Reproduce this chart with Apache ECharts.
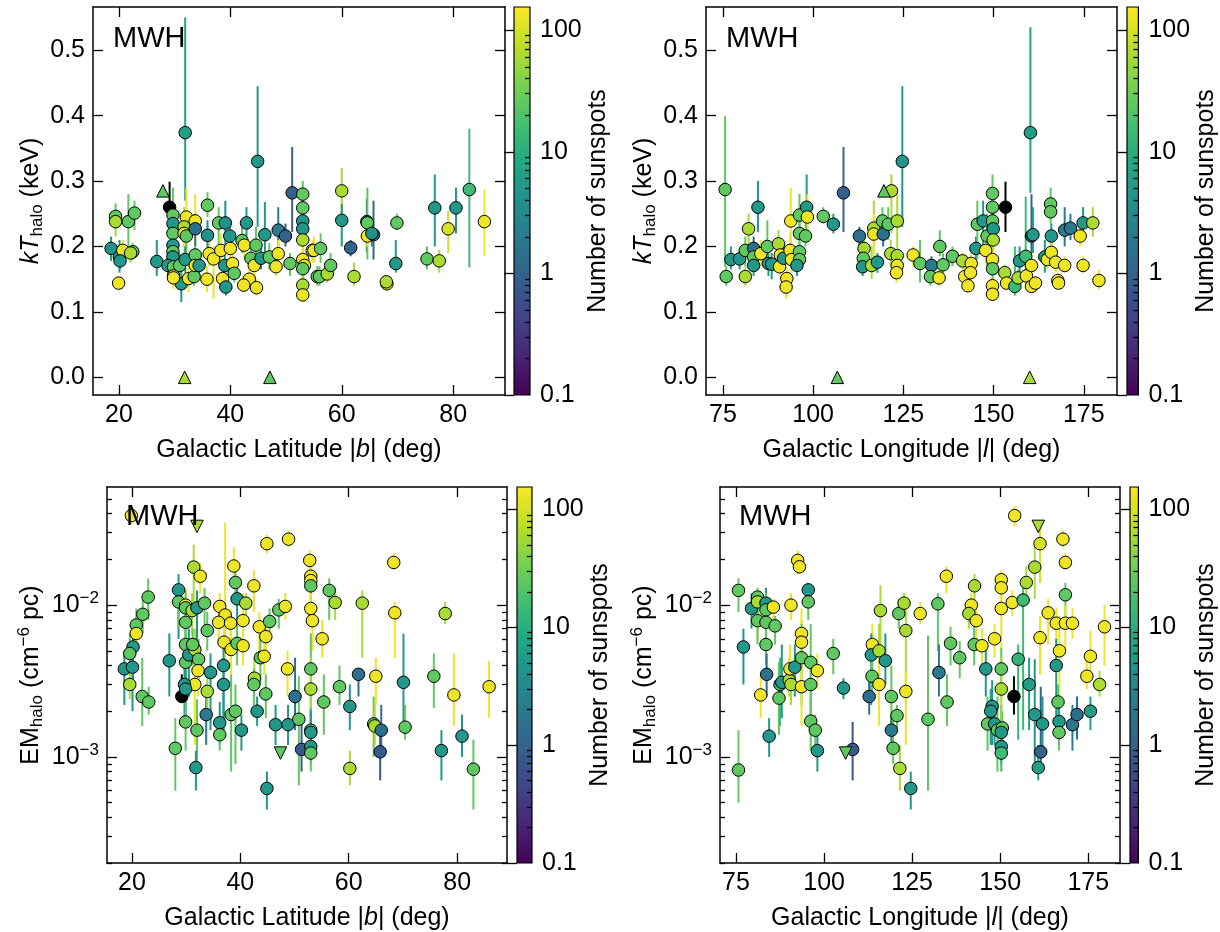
<!DOCTYPE html>
<html>
<head>
<meta charset="utf-8">
<title>MWH halo temperature and emission measure</title>
<script src="https://cdn.jsdelivr.net/npm/echarts@6/dist/echarts.min.js"></script>
<style>
  html, body { margin: 0; padding: 0; background: #fff; }
  #chart { width: 1220px; height: 932px; }
</style>
</head>
<body>
<div id="chart"></div>
<script>
// ---- data: [coordinate, value, lower, upper, sunspot number] ----
const kTvsLat = [
  [18.6,0.197,0.178,0.215,4],[19.4,0.246,0.225,0.266,25],[19.4,0.238,0.215,0.255,60],[20.1,0.184,0.16,0.21,5],
  [19.95,0.144,0.14,0.15,130],[20.7,0.194,0.18,0.21,130],[21.7,0.238,0.194,0.28,25],[22.8,0.251,0.225,0.27,25],
  [22.5,0.192,0.18,0.205,25],[22.1,0.19,0.175,0.2,60],[20.2,0.178,0.165,0.19,5],[26.8,0.177,0.155,0.21,5],
  [29.1,0.26,0.222,0.299,0],[29.7,0.248,0.21,0.29,25],[29.7,0.235,0.2,0.26,5],[29.7,0.22,0.2,0.24,25],
  [29.7,0.202,0.18,0.23,5],[29.7,0.192,0.175,0.21,25],[29.7,0.184,0.17,0.2,5],[28.8,0.171,0.155,0.19,5],
  [29.8,0.169,0.15,0.185,25],[29.8,0.155,0.14,0.17,130],[31.2,0.143,0.115,0.17,5],[31.9,0.374,0.27,0.55,6],
  [32.1,0.245,0.2,0.29,130],[31.7,0.23,0.2,0.26,60],[31.7,0.22,0.19,0.25,130],[32.1,0.216,0.19,0.24,25],
  [33.7,0.239,0.2,0.28,130],[33.7,0.227,0.2,0.25,1.5],[30.9,0.171,0.15,0.19,25],[31.9,0.18,0.16,0.2,5],
  [32.5,0.151,0.13,0.17,130],[29.8,0.152,0.135,0.17,130],[33.5,0.154,0.14,0.17,25],[33.7,0.187,0.17,0.2,25],
  [33.7,0.171,0.15,0.19,130],[34.4,0.171,0.155,0.19,5],[35.9,0.263,0.245,0.283,25],[35.8,0.15,0.13,0.17,130],
  [36.2,0.189,0.17,0.21,130],[37,0.181,0.12,0.2,130],[37.9,0.236,0.2,0.26,25],[39.1,0.236,0.19,0.27,4],
  [35.9,0.217,0.19,0.24,4],[38.3,0.194,0.17,0.22,130],[40,0.197,0.175,0.22,130],[39.9,0.216,0.2,0.235,5],
  [39,0.171,0.15,0.19,5],[40.4,0.174,0.155,0.19,130],[40.7,0.159,0.145,0.175,25],[38.6,0.151,0.13,0.17,130],
  [39.2,0.138,0.125,0.15,5],[42.1,0.209,0.19,0.23,25],[42.5,0.202,0.18,0.22,130],[42.9,0.236,0.215,0.26,5],
  [43.7,0.182,0.165,0.2,25],[44.3,0.171,0.15,0.19,130],[44.6,0.202,0.175,0.23,25],[44.9,0.33,0.23,0.445,5],
  [43.4,0.15,0.135,0.165,130],[44.7,0.137,0.125,0.15,130],[42.4,0.141,0.13,0.155,130],[46.2,0.218,0.19,0.268,5],
  [45.5,0.182,0.165,0.2,5],[47,0.184,0.165,0.205,25],[48.6,0.225,0.2,0.26,2],[49.9,0.216,0.2,0.235,1],
  [48.6,0.189,0.17,0.21,130],[48.2,0.169,0.155,0.185,130],[50.7,0.174,0.155,0.19,25],[51.1,0.282,0.222,0.352,1],
  [53,0.28,0.26,0.3,25],[53,0.259,0.24,0.28,25],[53,0.239,0.22,0.26,5],[53,0.227,0.21,0.245,5],
  [53,0.21,0.19,0.23,60],[53,0.18,0.16,0.2,130],[53.3,0.171,0.155,0.19,130],[53,0.166,0.15,0.18,25],
  [53,0.141,0.13,0.155,60],[53,0.126,0.115,0.14,130],[54.7,0.194,0.175,0.21,130],[55.6,0.154,0.14,0.17,25],
  [55,0.194,0.175,0.215,130],[56.2,0.197,0.175,0.22,25],[56,0.154,0.14,0.17,25],[57.4,0.158,0.145,0.175,60],
  [58,0.171,0.155,0.19,25],[60,0.285,0.23,0.32,60],[60,0.24,0.2,0.265,5],[61.6,0.198,0.185,0.21,1],
  [62.2,0.154,0.14,0.175,60],[64.5,0.238,0.191,0.273,1],[64.6,0.236,0.18,0.29,25],[64.6,0.216,0.2,0.235,130],
  [65.7,0.218,0.18,0.27,1],[65.4,0.22,0.2,0.24,4],[69.9,0.236,0.225,0.25,25],[69.7,0.174,0.16,0.21,5],
  [68.1,0.143,0.135,0.155,130],[68,0.146,0.14,0.15,60],[75.3,0.181,0.165,0.2,25],[77.5,0.178,0.16,0.195,60],
  [76.7,0.259,0.2,0.31,5],[79.1,0.227,0.19,0.255,100],[80.5,0.259,0.22,0.29,5],[82.9,0.287,0.168,0.38,15],
  [85.6,0.238,0.185,0.287,130]
];
const kTvsLatLimits = [[27.9,0.285,25],[31.8,0,60],[47.1,0,25]];

const kTvsLon = [
  [75.6,0.287,0.169,0.399,25],[75.9,0.154,0.14,0.17,25],[77.2,0.18,0.165,0.2,5],[79.6,0.181,0.165,0.195,5],
  [81.2,0.194,0.17,0.215,25],[81.2,0.154,0.14,0.17,60],[82.1,0.227,0.18,0.25,60],[83.5,0.197,0.175,0.215,1.5],
  [84.7,0.26,0.222,0.3,5],[83.5,0.184,0.17,0.2,25],[83.5,0.171,0.155,0.19,5],[85.5,0.189,0.17,0.21,130],
  [87.3,0.2,0.17,0.24,25],[87.6,0.174,0.155,0.195,5],[88.5,0.173,0.15,0.19,5],[90.4,0.204,0.18,0.225,60],
  [90.9,0.187,0.17,0.205,130],[90.7,0.169,0.155,0.185,130],[91.8,0.182,0.165,0.2,5],[92.7,0.151,0.135,0.165,130],
  [92.5,0.138,0.12,0.155,130],[93.8,0.239,0.18,0.29,130],[93.6,0.194,0.17,0.22,130],[94,0.18,0.16,0.2,130],
  [96.2,0.248,0.21,0.28,25],[96.2,0.22,0.2,0.24,25],[96.2,0.192,0.17,0.21,25],[96.2,0.18,0.165,0.195,25],
  [95.5,0.171,0.155,0.19,5],[98.2,0.26,0.22,0.31,5],[98.4,0.245,0.22,0.28,130],[97.9,0.216,0.2,0.235,25],
  [102.8,0.246,0.235,0.26,25],[105.6,0.234,0.22,0.25,5],[108.4,0.282,0.222,0.352,1],[112.8,0.216,0.2,0.23,1.5],
  [116.8,0.228,0.19,0.27,60],[116.8,0.219,0.18,0.25,130],[114.1,0.197,0.18,0.215,60],[113.9,0.182,0.165,0.2,25],
  [113.7,0.169,0.155,0.185,5],[116.2,0.171,0.15,0.2,60],[117.8,0.176,0.16,0.19,5],[119.4,0.219,0.2,0.24,1.5],
  [119.2,0.239,0.22,0.26,25],[120.8,0.234,0.21,0.26,25],[121.7,0.285,0.22,0.31,60],[123.3,0.239,0.2,0.28,60],
  [121.5,0.189,0.17,0.21,60],[123.3,0.186,0.17,0.2,60],[123.3,0.171,0.155,0.19,130],[123.1,0.16,0.145,0.175,130],
  [124.7,0.33,0.23,0.445,5],[127.7,0.187,0.17,0.2,130],[129.6,0.174,0.145,0.21,25],[132.8,0.171,0.16,0.185,2],
  [132.5,0.154,0.14,0.17,25],[134.9,0.152,0.14,0.165,130],[135.1,0.2,0.185,0.225,25],[136,0.172,0.155,0.19,25],
  [138.6,0.185,0.17,0.2,25],[141.4,0.178,0.165,0.19,60],[142,0.154,0.14,0.17,130],[142.9,0.14,0.13,0.155,130],
  [143.8,0.174,0.16,0.19,130],[143.6,0.16,0.15,0.17,130],[145.1,0.197,0.18,0.215,5],[145.5,0.234,0.18,0.27,25],
  [147.1,0.239,0.19,0.27,5],[148.2,0.216,0.17,0.25,25],[147.8,0.194,0.175,0.21,130],[149.7,0.281,0.23,0.31,25],
  [149.7,0.26,0.22,0.285,25],[149.7,0.239,0.2,0.27,25],[149.9,0.227,0.2,0.25,5],[149.9,0.21,0.19,0.23,60],
  [149.7,0.18,0.165,0.195,130],[149.7,0.166,0.15,0.18,25],[149.7,0.14,0.13,0.15,130],[149.7,0.127,0.12,0.135,130],
  [153.3,0.26,0.222,0.299,0],[153.1,0.16,0.148,0.172,60],[153.6,0.144,0.135,0.155,130],[155.9,0.139,0.125,0.2,15],
  [156.8,0.152,0.14,0.165,60],[157.2,0.178,0.15,0.2,5],[158.9,0.185,0.15,0.276,15],[159.1,0.155,0.14,0.17,130],
  [160.2,0.374,0.282,0.535,6],[160.5,0.216,0.19,0.28,1],[160.9,0.218,0.19,0.26,5],[160.5,0.171,0.155,0.19,130],
  [160.5,0.139,0.13,0.15,130],[161.6,0.144,0.135,0.155,130],[164.2,0.184,0.16,0.21,5],[164.9,0.18,0.165,0.195,130],
  [165.8,0.265,0.245,0.29,25],[165.8,0.253,0.235,0.27,25],[166,0.216,0.2,0.235,5],[166,0.191,0.175,0.21,130],
  [167.2,0.176,0.16,0.19,130],[167.8,0.148,0.14,0.16,130],[168,0.144,0.135,0.155,130],[169.7,0.171,0.16,0.185,130],
  [169.7,0.225,0.2,0.26,2],[171.3,0.228,0.21,0.25,2],[174,0.216,0.2,0.235,130],[174.8,0.236,0.215,0.26,5],
  [174.8,0.171,0.16,0.185,130],[177.5,0.236,0.215,0.26,60],[179.2,0.148,0.135,0.165,130]
];
const kTvsLonLimits = [[119.6,0.285,25],[106.7,0,25],[160,0,60]];

const emVsLat = [
  [19.9,0.0389,0.034,0.045,130],[31.4,0.0178,0.0105,0.025,60],[32.6,0.0155,0.012,0.019,130],[28.6,0.0126,0.006,0.016,5],
  [28.6,0.0105,0.007,0.014,25],[29.9,0.01,0.007,0.013,130],[29.9,0.0096,0.006,0.0125,25],[31.1,0.0092,0.0065,0.012,60],
  [32,0.0096,0.0045,0.0125,5],[33.4,0.0103,0.007,0.013,25],[23,0.0113,0.008,0.015,25],[22,0.0087,0.0065,0.011,25],
  [20.8,0.0074,0.0055,0.0095,25],[20.8,0.0065,0.005,0.008,130],[20.2,0.0053,0.003,0.007,5],[19.6,0.0048,0.003,0.0065,25],
  [18.6,0.0038,0.0022,0.005,5],[20.1,0.0039,0.002,0.0055,5],[19.6,0.003,0.0024,0.0037,60],[21.9,0.0025,0.0016,0.0045,25],
  [23.1,0.0023,0.0019,0.0029,25],[26.9,0.0043,0.0025,0.0065,5],[29.2,0.0025,0.0023,0.0035,0],[29.9,0.0077,0.004,0.01,25],
  [29.9,0.0055,0.003,0.008,25],[29.9,0.0042,0.003,0.006,25],[30.5,0.0047,0.0025,0.007,5],[31.6,0.0051,0.0035,0.007,60],
  [31.2,0.0055,0.004,0.007,25],[32.3,0.0044,0.003,0.006,25],[32.2,0.0037,0.0025,0.0048,130],[31.6,0.003,0.0012,0.0045,130],
  [29.7,0.003,0.0018,0.0042,5],[29.9,0.0028,0.0016,0.004,5],[29.9,0.0017,0.0011,0.0025,25],[32,0.0015,0.0008,0.0024,25],
  [28,0.00114,0.0006,0.0018,25],[31.8,0.00085,0.0006,0.0011,5],[33.7,0.0019,0.0012,0.003,2],[33.9,0.0027,0.002,0.0035,60],
  [34.5,0.0036,0.0015,0.0048,5],[33.9,0.0068,0.005,0.009,25],[36.2,0.00168,0.0012,0.0023,5],[36.2,0.0014,0.0011,0.0018,25],
  [36.2,0.0098,0.008,0.012,130],[37.2,0.0086,0.0044,0.035,130],[36,0.0077,0.0055,0.01,130],[38.2,0.0076,0.0055,0.0095,130],
  [38.8,0.0181,0.013,0.024,130],[39.1,0.0141,0.01,0.018,25],[39.4,0.011,0.008,0.014,5],[37,0.0057,0.004,0.0075,130],
  [38.3,0.0051,0.0035,0.007,130],[39.4,0.0056,0.004,0.0075,25],[40.5,0.0054,0.004,0.007,130],[40.5,0.0079,0.005,0.012,130],
  [41,0.0103,0.0085,0.012,60],[36.9,0.004,0.0015,0.006,5],[36.9,0.003,0.0015,0.0045,5],[38.3,0.0019,0.0008,0.0035,25],
  [39.1,0.002,0.0009,0.003,25],[40.2,0.0015,0.0011,0.0019,5],[42.5,0.0134,0.009,0.017,130],[43.5,0.0072,0.0045,0.009,130],
  [44.7,0.0062,0.0045,0.008,130],[45.4,0.0078,0.006,0.0095,25],[43.7,0.0045,0.003,0.006,25],[44.4,0.0046,0.0035,0.0065,130],
  [42.6,0.0033,0.0025,0.0045,60],[42.5,0.003,0.0022,0.0038,25],[43.1,0.002,0.0016,0.0025,5],[44.7,0.0026,0.0018,0.0035,25],
  [44.9,0.0254,0.022,0.029,130],[48.9,0.0272,0.024,0.031,130],[47.1,0.0093,0.007,0.011,25],[48.3,0.0098,0.008,0.012,130],
  [48.7,0.0038,0.0025,0.005,130],[46.5,0.00163,0.0012,0.0022,5],[48.8,0.00163,0.0012,0.0022,5],[44.9,0.00062,0.00045,0.0008,5],
  [50.1,0.0025,0.0015,0.0045,1.5],[50.8,0.00177,0.00065,0.0034,25],[51.3,0.00112,0.0008,0.0018,0.8],[52.8,0.0197,0.017,0.023,130],
  [53,0.0155,0.011,0.019,130],[53,0.0145,0.01,0.018,130],[53,0.0134,0.01,0.016,25],[53,0.0095,0.007,0.012,130],
  [53.3,0.0079,0.005,0.0095,130],[53,0.0038,0.0015,0.0065,25],[53,0.0028,0.0015,0.0045,60],[53,0.0015,0.001,0.0021,15],
  [53,0.00145,0.001,0.002,5],[53,0.00117,0.0009,0.0015,5],[53,0.00106,0.0008,0.0014,25],[55.1,0.006,0.0045,0.008,130],
  [55.4,0.0023,0.0014,0.0035,25],[56.4,0.0125,0.008,0.015,25],[57.5,0.0104,0.008,0.013,60],[58.3,0.0029,0.0022,0.004,25],
  [60.2,0.00215,0.0015,0.003,5],[60.2,0.00084,0.00065,0.0011,60],[61.8,0.0035,0.0025,0.0038,1.5],[62.5,0.0103,0.0045,0.0125,60],
  [64.6,0.00165,0.001,0.0025,25],[64.8,0.0016,0.0012,0.0022,60],[65,0.0034,0.0022,0.0045,130],[66,0.0015,0.0011,0.0022,1.5],
  [65.8,0.00108,0.0007,0.0015,0.8],[68.3,0.0191,0.017,0.022,130],[68.5,0.0089,0.0045,0.0105,130],[70.1,0.0031,0.0015,0.0065,5],
  [70.4,0.00157,0.0013,0.0022,25],[75.7,0.0034,0.0021,0.0048,25],[77.1,0.0011,0.0007,0.0015,5],[77.8,0.0088,0.0075,0.0105,60],
  [79.4,0.00256,0.0016,0.0048,130],[80.9,0.00137,0.001,0.0019,5],[83,0.00083,0.00045,0.0013,25],[85.9,0.0029,0.0018,0.0043,130]
];
const emVsLatLimits = [[32,0.033,60],[47.4,0.00106,25]];

const emVsLon = [
  [75.7,0.0125,0.009,0.015,25],[75.7,0.00082,0.0005,0.0015,25],[77.1,0.0053,0.003,0.007,5],[79.4,0.0095,0.007,0.012,5],
  [81.1,0.0113,0.008,0.013,25],[81.1,0.0105,0.006,0.012,60],[81.1,0.0079,0.0055,0.011,25],[83.5,0.0103,0.006,0.013,5],
  [83.5,0.0093,0.006,0.012,25],[83.5,0.0077,0.005,0.0095,25],[83.5,0.0055,0.004,0.007,25],[85.6,0.0097,0.007,0.011,130],
  [86.1,0.0073,0.0055,0.0085,25],[83.7,0.0035,0.0025,0.0048,1.5],[82,0.00256,0.0018,0.0035,130],[84.4,0.00137,0.001,0.0018,5],
  [87.2,0.00244,0.0014,0.0042,25],[87.5,0.003,0.0016,0.0045,15],[88,0.0031,0.0018,0.0055,5],[90.1,0.0032,0.0025,0.0045,60],
  [90.3,0.0038,0.0026,0.0055,130],[90.6,0.003,0.0022,0.0038,60],[91.7,0.0039,0.0025,0.0055,5],[90.6,0.01,0.008,0.012,130],
  [92.5,0.0197,0.016,0.023,130],[93,0.0179,0.016,0.021,130],[93.6,0.0065,0.004,0.0095,130],[93.6,0.0057,0.0035,0.008,130],
  [93.6,0.0045,0.0022,0.0075,25],[93.6,0.0029,0.0016,0.0045,130],[95.5,0.0126,0.011,0.014,5],[95.5,0.0105,0.008,0.013,25],
  [96.2,0.0042,0.0015,0.0075,25],[96.2,0.003,0.0014,0.0045,25],[98.1,0.0037,0.0028,0.0048,130],[96.2,0.00172,0.0011,0.0024,25],
  [97.5,0.0015,0.0012,0.0019,25],[98.1,0.0011,0.0008,0.0015,5],[102.6,0.0048,0.0035,0.006,25],[105.5,0.00284,0.0024,0.0033,5],
  [108.1,0.00112,0.0007,0.0017,0.8],[112.8,0.0025,0.0019,0.0034,1.5],[113.7,0.0055,0.0035,0.0075,130],[113.4,0.0047,0.0022,0.0065,5],
  [113.6,0.0034,0.0025,0.0045,25],[115.6,0.005,0.003,0.0075,60],[115.6,0.003,0.0016,0.0045,130],[116,0.0092,0.0045,0.0135,60],
  [117.4,0.0043,0.003,0.0065,5],[119.1,0.0025,0.0016,0.004,25],[120.7,0.00187,0.0015,0.0022,25],[119.1,0.0015,0.0012,0.0019,2],
  [119.6,0.00114,0.0009,0.0019,25],[121.5,0.00084,0.0006,0.0012,60],[121.2,0.0088,0.007,0.011,25],[122.7,0.0103,0.0085,0.012,60],
  [123.2,0.0068,0.0022,0.01,60],[123.2,0.0027,0.0012,0.0036,130],[124.6,0.00062,0.00045,0.0008,5],[127.3,0.0088,0.0075,0.0105,130],
  [129.5,0.00177,0.0006,0.0063,25],[132.3,0.0102,0.005,0.012,25],[132.6,0.0036,0.0025,0.0055,2],[134.7,0.0155,0.012,0.018,130],
  [134.9,0.0023,0.0016,0.0035,25],[135.9,0.0056,0.004,0.0072,25],[138.5,0.0045,0.0033,0.0058,25],[141.8,0.01,0.0085,0.012,130],
  [141.1,0.0088,0.007,0.01,60],[143.2,0.0079,0.005,0.0095,130],[142.7,0.0134,0.009,0.016,60],[142.6,0.0055,0.004,0.0075,25],
  [144.8,0.0054,0.004,0.007,130],[145.9,0.0038,0.0025,0.0052,5],[148.4,0.006,0.0045,0.0075,130],[150.3,0.0147,0.012,0.017,130],
  [150.3,0.013,0.01,0.016,130],[150.3,0.0095,0.005,0.013,130],[147.7,0.00215,0.0012,0.0032,5],[147.3,0.002,0.0012,0.0028,5],
  [146.4,0.00165,0.0011,0.0025,25],[148.4,0.00165,0.0012,0.0023,5],[149.2,0.0015,0.0008,0.0025,25],[150.6,0.00155,0.001,0.002,25],
  [150.3,0.00145,0.001,0.0022,5],[150.3,0.00117,0.0009,0.0015,5],[150.3,0.00106,0.0008,0.0014,15],[150.3,0.0038,0.0025,0.0052,25],
  [150.3,0.0028,0.0015,0.0045,60],[153.9,0.0025,0.0019,0.0034,0],[153.4,0.0104,0.0085,0.0125,130],[156.5,0.0108,0.0015,0.013,15],
  [157.4,0.0141,0.01,0.018,60],[154.1,0.0389,0.033,0.045,130],[155.1,0.0044,0.0013,0.0055,12],[158.2,0.003,0.0015,0.0045,6],
  [159.8,0.0178,0.011,0.024,60],[161.3,0.0254,0.014,0.032,100],[159.8,0.0019,0.0009,0.0044,5],[162,0.00165,0.0011,0.0025,5],
  [161.5,0.00108,0.0008,0.0029,1],[160.8,0.00085,0.0007,0.0012,6],[163.6,0.0089,0.0055,0.011,130],[161.3,0.0061,0.0035,0.0085,130],
  [165.9,0.0076,0.0045,0.0095,130],[166.8,0.005,0.0025,0.0085,130],[165.9,0.004,0.0018,0.006,5],[166.4,0.0023,0.0018,0.003,25],
  [166.7,0.00171,0.0012,0.0023,5],[166.7,0.00145,0.0011,0.0019,25],[167.8,0.0272,0.024,0.031,130],[168.5,0.0191,0.017,0.022,130],
  [168.5,0.0117,0.008,0.014,25],[168.5,0.0076,0.005,0.01,130],[170.5,0.0076,0.006,0.0095,130],[170.5,0.00163,0.0011,0.0022,2],
  [171.8,0.0019,0.0013,0.0025,1.5],[175.6,0.002,0.0015,0.0025,6],[175.6,0.0046,0.0035,0.0068,130],[174.6,0.0034,0.0028,0.0042,130],
  [178.2,0.003,0.0025,0.0037,60],[179.6,0.0072,0.004,0.01,130]
];
const emVsLonLimits = [[160.8,0.033,60],[106.1,0.00106,25]];

// ---- tick positions ----
const latTicks = [20, 40, 60, 80];
const lonTicks = [75, 100, 125, 150, 175];
const kTTicks = [0, 0.1, 0.2, 0.3, 0.4, 0.5];
const emTicks = [1e-3, 1e-2];
const emMinorTicks = [2e-4,3e-4,4e-4,5e-4,6e-4,7e-4,8e-4,9e-4,2e-3,3e-3,4e-3,5e-3,6e-3,7e-3,8e-3,9e-3,2e-2,3e-2,4e-2,5e-2];
const cbarTicks = [0.1, 1, 10, 100];
const cbarMinorTicks = [0.2,0.3,0.4,0.5,0.6,0.7,0.8,0.9,2,3,4,5,6,7,8,9,20,30,40,50,60,70,80,90];

// ---- colour scale: viridis on log10(sunspots) ----
const N_MIN = 0.1, N_MAX = 155;
const VIRIDIS = ['#440154','#482475','#414487','#355f8d','#2a788e','#21918c','#22a884','#44bf70','#7ad151','#bddf26','#fde725'];
function hexToRgb(h) { return [1, 3, 5].map(i => parseInt(h.substr(i, 2), 16)); }
function viridis(t) {
  t = Math.max(0, Math.min(1, t));
  const f = t * (VIRIDIS.length - 1);
  const i = Math.min(Math.floor(f), VIRIDIS.length - 2);
  const a = hexToRgb(VIRIDIS[i]), b = hexToRgb(VIRIDIS[i + 1]);
  const u = f - i;
  return 'rgb(' + a.map((v, k) => Math.round(v + (b[k] - v) * u)).join(',') + ')';
}
function colorOf(n) {
  if (n <= 0) return '#000000';
  return viridis((Math.log10(n) - Math.log10(N_MIN)) / (Math.log10(N_MAX) - Math.log10(N_MIN)));
}

const FONT = '"Liberation Sans", Arial, Helvetica, sans-serif';
const FS = 25;
const richStyles = {
  it: { fontStyle: 'italic', fontSize: FS, fontFamily: FONT, color: '#000' },
  sub: { fontSize: 17, fontFamily: FONT, color: '#000', verticalAlign: 'bottom', lineHeight: 17 },
  sup: { fontSize: 17, fontFamily: FONT, color: '#000', verticalAlign: 'top', lineHeight: 17 },
  n: { fontSize: FS, fontFamily: FONT, color: '#000', lineHeight: 30 }
};

const latName = '{n|Galactic Latitude |}{it|b}{n|| (deg)}';
const lonName = '{n|Galactic Longitude |}{it|l}{n|| (deg)}';
const kTName = '{it|kT}{sub|halo}{n| (keV)}';
const emName = '{n|EM}{sub|halo}{n| (cm}{sup|−6}{n| pc)}';

// ---- panel layout ----
const panels = [
  { grid: { left: 93, top: 7, width: 412, height: 388 }, cbar: { left: 514, top: 7, width: 16, height: 388 },
    x: { min: 15.35, max: 89.3, ticks: latTicks, name: latName }, log: false,
    y: { min: -0.027, max: 0.566, ticks: kTTicks, name: kTName, gap: 47 },
    pts: kTvsLat, lims: kTvsLatLimits, limRotate: 0, mwh: [113, 24] },
  { grid: { left: 706, top: 7, width: 411, height: 388 }, cbar: { left: 1127, top: 7, width: 16, height: 388 },
    x: { min: 70.3, max: 184.2, ticks: lonTicks, name: lonName }, log: false,
    y: { min: -0.027, max: 0.566, ticks: kTTicks, name: kTName, gap: 47 },
    pts: kTvsLon, lims: kTvsLonLimits, limRotate: 0, mwh: [726, 24] },
  { grid: { left: 107, top: 487, width: 400, height: 376 }, cbar: { left: 517, top: 487, width: 15, height: 376 },
    x: { min: 15.4, max: 89.2, ticks: latTicks, name: latName }, log: true,
    y: { min: 2e-4, max: 0.06, ticks: emTicks, name: emName, gap: 61 },
    pts: emVsLat, lims: emVsLatLimits, limRotate: 180, mwh: [126, 502] },
  { grid: { left: 720, top: 487, width: 400, height: 376 }, cbar: { left: 1130, top: 487, width: 16, height: 376 },
    x: { min: 70.45, max: 184.0, ticks: lonTicks, name: lonName }, log: true,
    y: { min: 2e-4, max: 0.06, ticks: emTicks, name: emName, gap: 61 },
    pts: emVsLon, lims: emVsLonLimits, limRotate: 180, mwh: [739, 502] }
];

const grids = [], xAxes = [], yAxes = [], series = [], titles = [];
const frameLine = { show: true, onZero: false, lineStyle: { color: '#000', width: 1.5 } };
function ticks(values, len) {
  return { show: true, inside: true, length: len, customValues: values, lineStyle: { color: '#000', width: 1.3 } };
}
const labelStyle = { color: '#000', fontSize: FS, fontFamily: FONT };

panels.forEach(p => {
  const gi = grids.length; grids.push(p.grid);
  const cg = grids.length; grids.push(p.cbar);

  // frame: bottom/top x axes, left/right y axes, ticks pointing inward
  const xi = xAxes.length;
  xAxes.push({
    gridIndex: gi, type: 'value', min: p.x.min, max: p.x.max, position: 'bottom',
    axisLine: frameLine, axisTick: ticks(p.x.ticks, 10), splitLine: { show: false },
    axisLabel: Object.assign({ customValues: p.x.ticks, margin: 8 }, labelStyle),
    name: p.x.name, nameLocation: 'middle', nameGap: 40,
    nameTextStyle: { fontSize: FS, fontFamily: FONT, color: '#000', rich: richStyles }
  });
  xAxes.push({
    gridIndex: gi, type: 'value', min: p.x.min, max: p.x.max, position: 'top',
    axisLine: frameLine, axisTick: ticks(p.x.ticks, 10), axisLabel: { show: false }, splitLine: { show: false }
  });

  const yType = p.log ? 'log' : 'value';
  const yi = yAxes.length;
  yAxes.push({
    gridIndex: gi, type: yType, min: p.y.min, max: p.y.max, position: 'left',
    axisLine: frameLine, axisTick: ticks(p.y.ticks, 10), splitLine: { show: false }, minorTick: { show: false },
    axisLabel: Object.assign({
      customValues: p.y.ticks, margin: 8, rich: richStyles,
      formatter: p.log
        ? v => '{n|10}{sup|−' + Math.round(-Math.log10(v)) + '}'
        : v => v.toFixed(1)
    }, labelStyle),
    name: p.y.name, nameLocation: 'middle', nameRotate: 90, nameGap: p.y.gap,
    nameTextStyle: { fontSize: FS, fontFamily: FONT, color: '#000', rich: richStyles }
  });
  yAxes.push({
    gridIndex: gi, type: yType, min: p.y.min, max: p.y.max, position: 'right',
    axisLine: frameLine, axisTick: ticks(p.y.ticks, 10), axisLabel: { show: false }, splitLine: { show: false }
  });
  if (p.log) {
    ['left', 'right'].forEach(pos => yAxes.push({
      gridIndex: gi, type: 'log', min: p.y.min, max: p.y.max, position: pos,
      axisLine: { show: false }, axisTick: ticks(emMinorTicks, 5), axisLabel: { show: false }, splitLine: { show: false }
    }));
  }

  // error bars
  series.push({
    type: 'custom', xAxisIndex: xi, yAxisIndex: yi, clip: true, silent: true, z: 1,
    data: p.pts.map(d => [d[0], d[2], d[3], d[4]]),
    encode: { x: 0, y: [1, 2] },
    renderItem: (params, api) => {
      const x = api.value(0);
      const a = api.coord([x, api.value(1)]);
      const b = api.coord([x, api.value(2)]);
      return { type: 'line', shape: { x1: a[0], y1: a[1], x2: b[0], y2: b[1] },
               style: { stroke: colorOf(api.value(3)), lineWidth: 2 } };
    }
  });
  // measured points
  series.push({
    type: 'scatter', xAxisIndex: xi, yAxisIndex: yi, silent: true, z: 3,
    symbol: 'circle', symbolSize: 12.5,
    data: p.pts.map(d => [d[0], d[1], d[4]]),
    itemStyle: { color: prm => colorOf(prm.data[2]), borderColor: '#000', borderWidth: 1, opacity: 1 }
  });
  // limits
  series.push({
    type: 'scatter', xAxisIndex: xi, yAxisIndex: yi, silent: true, z: 3,
    symbol: 'triangle', symbolSize: 12.5, symbolRotate: p.limRotate, clip: false,
    data: p.lims,
    itemStyle: { color: prm => colorOf(prm.data[2]), borderColor: '#000', borderWidth: 1, opacity: 1 }
  });

  // colour bar
  const cxi = xAxes.length;
  xAxes.push({ gridIndex: cg, type: 'value', min: 0, max: 1, show: false });
  const cyi = yAxes.length;
  yAxes.push({
    gridIndex: cg, type: 'log', min: N_MIN, max: N_MAX, position: 'right', z: 5,
    axisLine: { show: false }, axisTick: ticks(cbarTicks, 10), splitLine: { show: false },
    axisLabel: Object.assign({ customValues: cbarTicks, margin: 10,
      formatter: v => (v < 1 ? v.toFixed(1) : String(Math.round(v))) }, labelStyle),
    name: 'Number of sunspots', nameLocation: 'middle', nameRotate: 90, nameGap: 35,
    nameTextStyle: { fontSize: FS, fontFamily: FONT, color: '#000' }
  });
  yAxes.push({
    gridIndex: cg, type: 'log', min: N_MIN, max: N_MAX, position: 'right', z: 5,
    axisLine: { show: false }, axisTick: ticks(cbarMinorTicks, 5), axisLabel: { show: false }, splitLine: { show: false }
  });
  series.push({
    type: 'custom', xAxisIndex: cxi, yAxisIndex: cyi, silent: true, z: 1,
    data: [[0.5, 1]],
    renderItem: params => {
      const cs = params.coordSys;
      return { type: 'rect', shape: { x: cs.x, y: cs.y, width: cs.width, height: cs.height },
        style: { fill: { type: 'linear', x: 0, y: 1, x2: 0, y2: 0,
                         colorStops: VIRIDIS.map((c, k) => ({ offset: k / (VIRIDIS.length - 1), color: c })) },
                 stroke: '#000', lineWidth: 1.2 } };
    }
  });

  titles.push({ text: 'MWH', left: p.mwh[0], top: p.mwh[1], padding: 0,
    textStyle: { fontSize: 29, fontWeight: 'normal', color: '#000', fontFamily: FONT } });
});

const chart = echarts.init(document.getElementById('chart'), null, { renderer: 'canvas' });
chart.setOption({
  backgroundColor: '#ffffff',
  animation: false,
  title: titles,
  grid: grids,
  xAxis: xAxes,
  yAxis: yAxes,
  series: series
});
</script>
</body>
</html>
